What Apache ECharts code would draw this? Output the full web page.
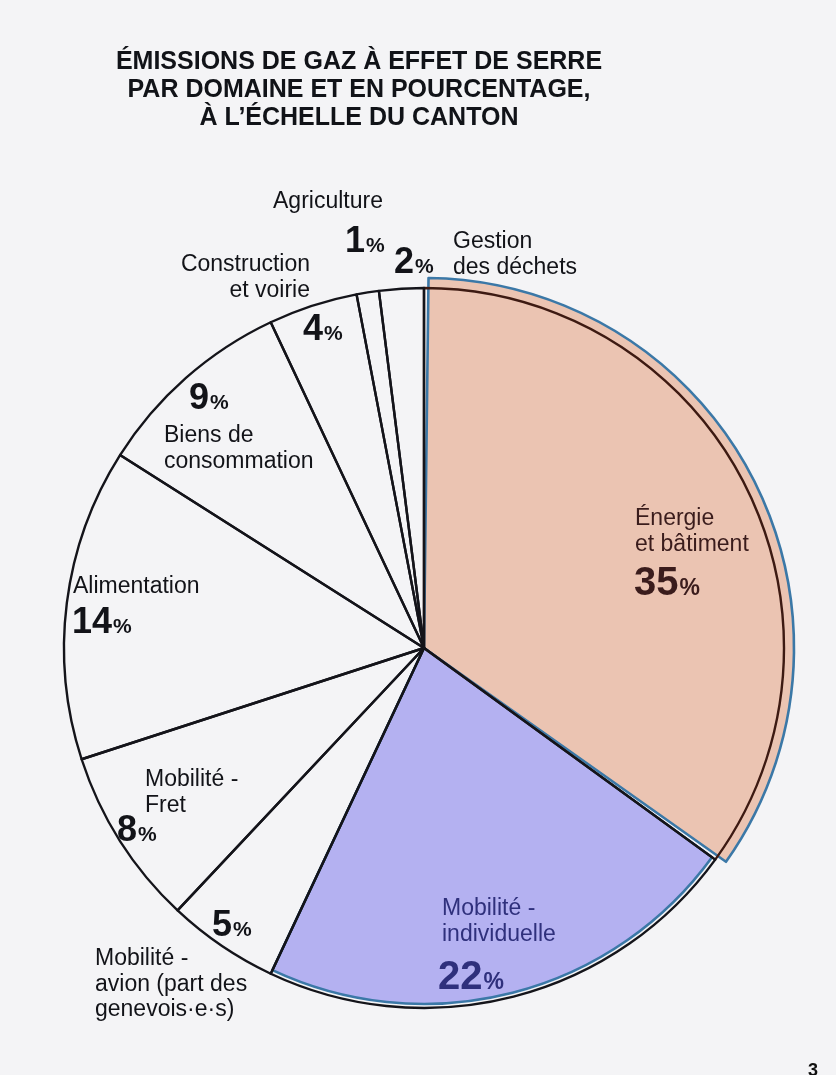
<!DOCTYPE html>
<html>
<head>
<meta charset="utf-8">
<script src="https://cdn.jsdelivr.net/npm/echarts@6/dist/echarts.min.js"></script>
<style>
html,body{margin:0;padding:0;background:#f4f4f6;}
#c{width:836px;height:1075px;}
</style>
</head>
<body>
<div id="c"></div>
<script>
// ---- data ----
const titleLines = ['ÉMISSIONS DE GAZ À EFFET DE SERRE', 'PAR DOMAINE ET EN POURCENTAGE,', 'À L’ÉCHELLE DU CANTON'];
const categories = ['Énergie et bâtiment', 'Mobilité - individuelle', 'Mobilité - avion (part des genevois·e·s)', 'Mobilité - Fret', 'Alimentation', 'Biens de consommation', 'Construction et voirie', 'Agriculture', 'Gestion des déchets'];
const labelLines = [['Énergie', 'et bâtiment'], ['Mobilité -', 'individuelle'], ['Mobilité -', 'avion (part des', 'genevois·e·s)'], ['Mobilité -', 'Fret'], ['Alimentation'], ['Biens de', 'consommation'], ['Construction', 'et voirie'], ['Agriculture'], ['Gestion', 'des déchets']];
const values = [35, 22, 5, 8, 14, 9, 4, 1, 2];
const pageNumber = '3';

// ---- layout / style (kept apart from the data) ----
const CENTER = [424, 648];
const FAMILY = 'Liberation Sans';
const BG = '#f4f4f6';
const namePos = [[635, 518, 'left'], [442, 908, 'left'], [95, 958, 'left'], [145, 779, 'left'], [73, 586, 'left'], [164, 435, 'left'], [310, 264, 'right'], [328, 201, 'center'], [453, 241, 'left']];
const pctPos = [[634, 582], [438, 976], [212, 924], [117, 829], [72, 621], [189, 397], [303, 328], [345, 240], [394, 261]];
const textColor = ['#3a1c1c', '#2f307c', '#121318', '#121318', '#121318', '#121318', '#121318', '#121318', '#121318'];
const bigNum = [true, true, false, false, false, false, false, false, false];

const chart = echarts.init(document.getElementById('c'), null, {renderer: 'canvas'});

function overlayData(idx, fill) {
  return categories.map((n, i) => ({
    name: n, value: values[i],
    itemStyle: i === idx
      ? {color: fill, borderColor: '#3b78a7', borderWidth: 2.6}
      : {color: 'rgba(0,0,0,0)', borderWidth: 0}
  }));
}

const baseData = categories.map((n, i) => ({
  name: n, value: values[i],
  itemStyle: {color: 'rgba(0,0,0,0)', borderColor: i === 0 ? '#3d1a12' : '#14141a', borderWidth: 2.4}
}));

const elements = [];
// title
elements.push({
  type: 'text', x: 359, y: 48, silent: true, z: 100,
  style: {text: titleLines.join('\n'), fontFamily: FAMILY, fontSize: 25, fontWeight: 'bold', fill: '#111318', align: 'center', verticalAlign: 'top', lineHeight: 28}
});
// labels
categories.forEach((c, i) => {
  const p = namePos[i];
  elements.push({
    type: 'text', x: p[0], y: p[1] - 12, silent: true, z: 100,
    style: {text: labelLines[i].join('\n'), fontFamily: FAMILY, fontSize: 23, fill: textColor[i], align: p[2], verticalAlign: 'top', lineHeight: 25.5}
  });
  const q = pctPos[i];
  const big = bigNum[i];
  elements.push({
    type: 'text', x: q[0], y: q[1] + 2, silent: true, z: 100,
    style: {
      text: '{n|' + values[i] + '}{p|%}', align: 'left', verticalAlign: 'middle', fill: textColor[i],
      rich: {
        n: {fontSize: big ? 40 : 36, fontWeight: 'bold', fontFamily: FAMILY, fill: textColor[i], verticalAlign: 'bottom'},
        p: {fontSize: big ? 23 : 21, fontWeight: 'bold', fontFamily: FAMILY, fill: textColor[i], verticalAlign: 'bottom', padding: [0, 0, big ? 4 : 3, 1]}
      }
    }
  });
});
elements.push({
  type: 'text', x: 808, y: 1062, silent: true, z: 100,
  style: {text: pageNumber, fontFamily: FAMILY, fontSize: 18, fontWeight: 'bold', fill: '#111', align: 'left', verticalAlign: 'top'}
});

chart.setOption({
  backgroundColor: BG,
  animation: false,
  series: [
    {type: 'pie', center: CENTER, radius: 370, startAngle: 90, clockwise: true, padAngle: 1.4, silent: true,
      label: {show: false}, labelLine: {show: false}, data: overlayData(0, '#ebc4b2'), z: 1},
    {type: 'pie', center: CENTER, radius: 356, startAngle: 90, clockwise: true, silent: true,
      label: {show: false}, labelLine: {show: false}, data: overlayData(1, '#b4b1f1'), z: 1},
    {type: 'pie', center: CENTER, radius: 360, startAngle: 90, clockwise: true, silent: true,
      label: {show: false}, labelLine: {show: false}, data: baseData, z: 2}
  ],
  graphic: {elements: elements}
});
</script>
</body>
</html>
